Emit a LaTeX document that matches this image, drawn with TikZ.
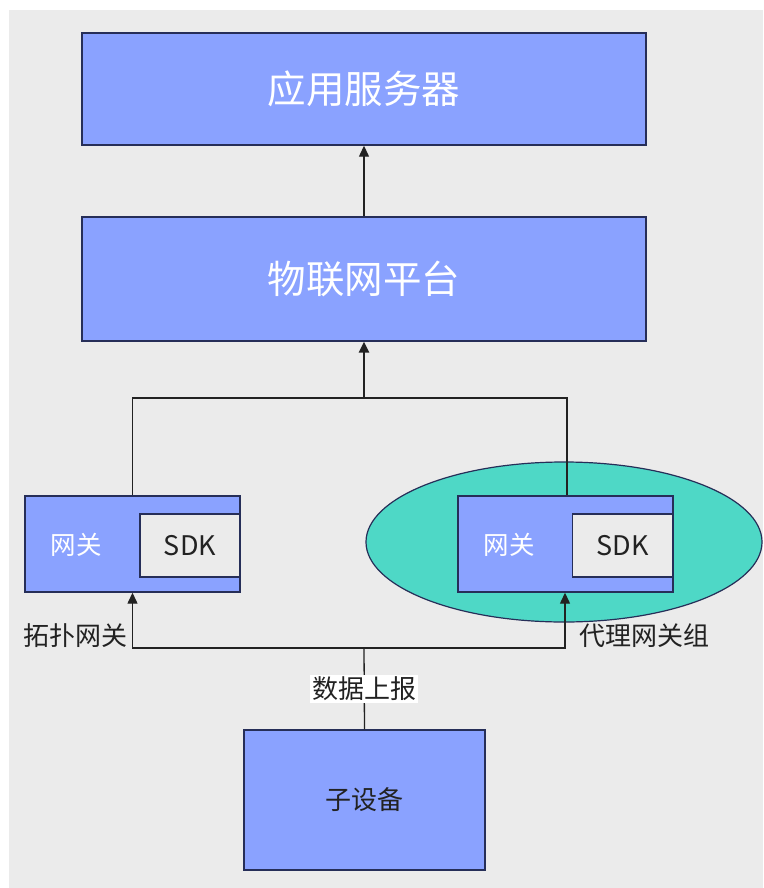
\documentclass[tikz,border=0pt]{standalone}
\usepackage{fontspec}
\setmainfont{Noto Sans CJK SC}
\usetikzlibrary{arrows.meta,calc,positioning,shapes.geometric}

\definecolor{boxblue}{RGB}{138,162,255}
\definecolor{edgenavy}{RGB}{38,46,88}
\definecolor{groupteal}{RGB}{78,216,198}
\definecolor{canvas}{RGB}{235,235,235}
\definecolor{inktext}{RGB}{34,34,34}

\begin{document}
\begin{tikzpicture}[
    x=1pt, y=-1pt,
    block/.style={draw=edgenavy, line width=1.4pt, fill=boxblue, inner sep=0pt},
    bigtitle/.style={text=white, font=\fontsize{38.5}{44}\selectfont},
    sdkbox/.style={draw=edgenavy, line width=1.4pt, fill=canvas, inner sep=0pt,
                   minimum width=100pt, minimum height=63pt, text=inktext,
                   font=\fontsize{27}{30}\selectfont},
    gwtext/.style={text=white, font=\fontsize{25.5}{29}\selectfont},
    tag/.style={text=inktext, font=\fontsize{26}{30}\selectfont, inner sep=1pt},
    line/.style={-{Triangle[width=10pt,length=11pt]}, line width=1.3pt, draw=inktext},
    thickline/.style={-{Triangle[width=10pt,length=11pt]}, line width=2.6pt, draw=inktext},
    plain/.style={line width=1.3pt, draw=inktext}
]
    \useasboundingbox (0,0) rectangle (763,888);
    \fill[canvas] (9,10) rectangle (763,888);

    \node[block, bigtitle, minimum width=564pt, minimum height=112pt] (server) at (364,89) {应用服务器};
    \node[block, bigtitle, minimum width=564pt, minimum height=124pt] (platform) at (364,279) {物联网平台};

    \node[ellipse, draw=edgenavy, line width=1.2pt, fill=groupteal,
          minimum width=396pt, minimum height=160pt] (group) at (564,542) {};

    \node[block, minimum width=215pt, minimum height=96pt] (gwleft) at (132.5,544) {};
    \node[sdkbox] (sdkleft) at (190,545.5) {SDK};
    \node[gwtext] (gwlefttext) at (76,545) {网关};

    \node[block, minimum width=215pt, minimum height=96pt] (gwright) at (565.5,544) {};
    \node[sdkbox] (sdkright) at (622.5,545.5) {SDK};
    \node[gwtext] (gwrighttext) at (509,545) {网关};

    \node[block, minimum width=241pt, minimum height=140pt, text=inktext,
          font=\fontsize{26}{30}\selectfont] (device) at (364.5,800) {子设备};

    \coordinate (topjoin) at (364,398);
    \coordinate (botjoin) at (364,648);

    \node[tag, anchor=east] (topolabel) at (129,636) {拓扑网关};
    \node[tag, anchor=west] (proxylabel) at (578,636) {代理网关组};

    \draw[line] (platform.north) -- (server.south);
    \draw[plain] (gwleft.north) |- (topjoin) -| ([xshift=1.5pt]gwright.north);
    \draw[thickline] (topjoin) -- (platform.south);
    \draw[plain] (device.north)
        -- node[tag, fill=white, inner sep=2pt] (reportlabel) {数据上报}
        (botjoin);
    \draw[line] (botjoin) -| (gwleft.south);
    \draw[line] (botjoin) -| ([xshift=-0.5pt]gwright.south);
\end{tikzpicture}
\end{document}
